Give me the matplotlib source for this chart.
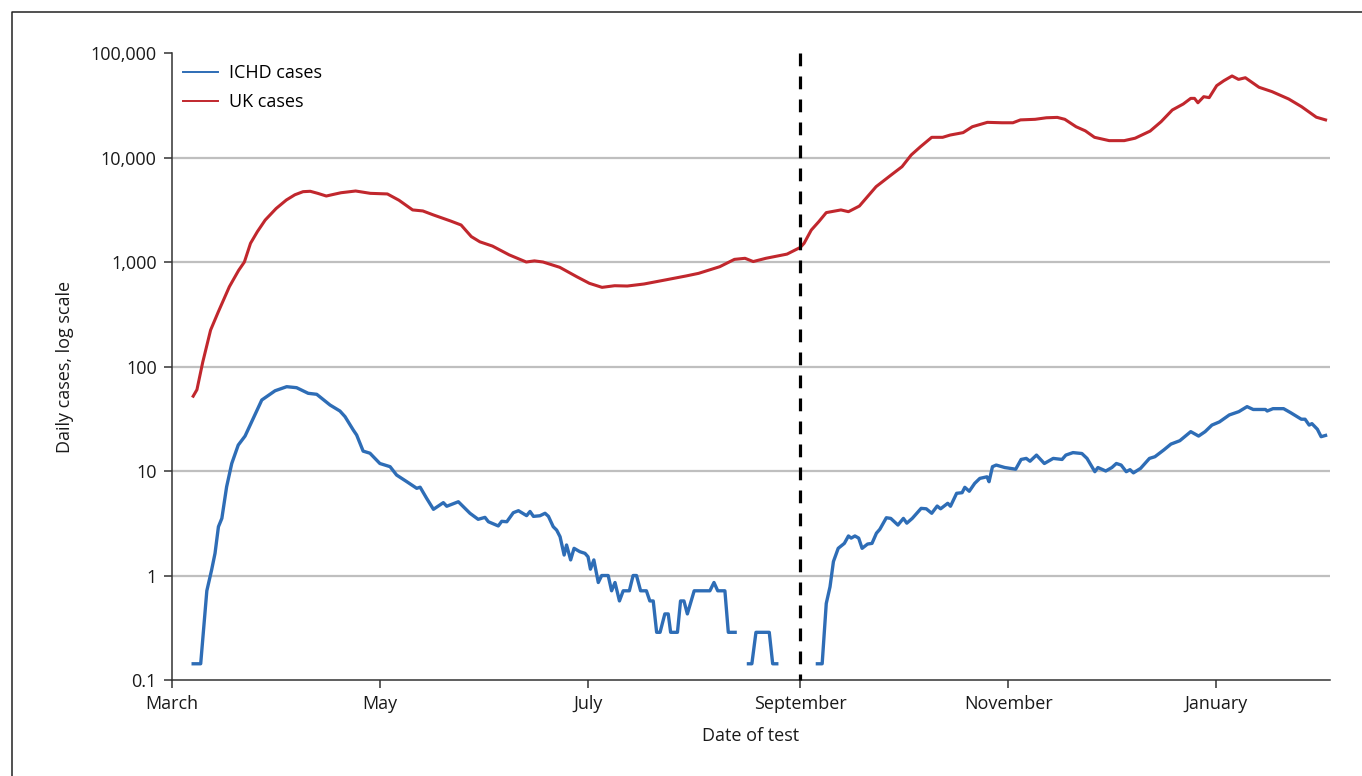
import numpy as np
import pandas as pd
import matplotlib
matplotlib.use("Agg")
import matplotlib.pyplot as plt
from matplotlib.lines import Line2D

plt.rcParams["font.family"] = ["Open Sans", "DejaVu Sans"]

START = pd.Timestamp("2020-03-01")

# 7-day average of UK daily cases (days since 1 March 2020)
uk_days = [6.2, 7.3, 9.0, 11.3, 13.5, 16.8, 19.5, 21.2, 23.0, 25.0, 27.3, 30.5, 33.5,
           36.0, 38.4, 40.5, 42.7, 45.2, 47.5, 49.5, 53.8, 58.1, 63.1, 66.5, 70.5,
           73.5, 76.6, 81.6, 84.7, 87.7, 90.2, 93.9, 98.8, 103.8, 106.2, 108.7,
           113.6, 118.6, 122.3, 126.0, 129.7, 133.4, 138.3, 144.5, 150.6, 154.3,
           160.5, 164.8, 167.9, 170.3, 174.0, 180.2, 184.1, 185.2, 187.3, 189.5,
           191.7, 196.0, 198.2, 201.4, 206.3, 210.7, 213.9, 216.6, 219.3, 222.6,
           225.8, 228.0, 231.8, 234.5, 238.9, 243.2, 246.4, 248.6, 252.9, 256.2,
           259.4, 261.6, 264.9, 267.6, 270.3, 274.6, 279.0, 282.2, 286.6, 289.8,
           293.1, 296.3, 298.5, 299.6, 300.6, 302.3, 303.9, 306.1, 308.2, 310.6,
           312.5, 314.5, 318.5, 322.3, 327.2, 331.0, 335.3, 338.0]
uk_cases = [52, 60, 110, 223, 330, 580, 830, 1000, 1510, 1950, 2520, 3250, 3920,
            4400, 4710, 4750, 4540, 4280, 4450, 4600, 4780, 4540, 4480, 3900, 3150,
            3080, 2820, 2470, 2260, 1750, 1560, 1420, 1170, 1000, 1025, 1000,
            890, 723, 625, 572, 593, 589, 616, 673, 735, 779,
            902, 1060, 1085, 1010, 1085, 1190, 1380, 1510, 2020, 2430,
            2970, 3150, 3030, 3430, 5260, 6800, 8170, 10580, 12680, 15600,
            15600, 16400, 17300, 19700, 21700, 21500, 21500, 22900, 23200, 24000,
            24200, 23200, 19700, 18000, 15600, 14500, 14500, 15300, 17900, 22000,
            28500, 32500, 36800, 36800, 33400, 38200, 37400, 48700, 54300, 60300,
            55900, 58000, 47000, 42700, 36300, 30600, 24300, 22900]

# 7-day average of ICHD cases; NaN marks days with no cases
ichd_days = [6.2, 8.4, 10.2, 11.6, 12.6, 13.6, 14.6, 16.0, 17.5, 19.4, 21.4, 22.9,
             26.3, 27.7, 30.2, 33.6, 36.5, 39.9, 42.4, 46.3, 49.2, 50.7, 53.1,
             54.1, 56.0, 58.0, 60.9, 63.9, 65.8, 68.8, 71.7, 72.7, 74.6, 76.6,
             79.5, 80.5, 83.9, 87.3, 89.7, 91.7, 92.7, 95.6, 96.6, 98.1, 100.0,
             101.5, 103.9, 104.9, 105.9, 107.8, 109.3, 110.3, 111.7, 112.7, 113.7,
             114.9, 115.6, 116.8, 117.8, 119.5, 121.0, 121.9, 122.6, 123.6, 124.9,
             125.9, 127.8, 128.8, 129.8, 131.1, 132.2, 134.0, 135.1, 136.1, 137.3,
             139.0, 140.0, 141.0, 142.0, 143.0, 144.4, 145.4, 146.1, 148.1, 149.0,
             150.0, 151.0, 153.0, 157.6, 158.8, 159.9, 162.0, 163.0, 165.0, 167.0,
             168.9, 169.9, 171.1, 175.0, 176.0, 177.2, 183.0,
             189.1, 190.5, 191.7, 192.8, 193.8, 195.2, 197.0, 198.2, 199.0, 200.1,
             201.2, 202.2, 203.8, 205.1, 206.4, 207.4, 209.3, 210.6, 212.7, 214.3,
             215.3, 216.9, 219.5, 221.0, 222.6, 224.2, 225.2, 227.3, 228.1, 229.9,
             231.5, 232.3, 233.6, 235.2, 236.7, 238.8, 239.4, 240.4, 241.5, 244.0,
             247.2, 248.8, 250.3, 251.4, 253.3, 255.6, 258.2, 260.8, 261.9, 264.0,
             266.6, 268.1, 270.4, 271.3, 273.6, 275.4, 276.7, 278.1, 279.6, 280.7,
             281.7, 283.8, 286.4, 288.0, 290.6, 292.7, 295.3, 298.5, 300.8, 302.7,
             304.7, 306.9, 309.8, 312.6, 315.0, 316.8, 320.4, 320.9, 322.6, 325.7,
             327.8, 330.9, 332.0, 333.2, 334.0, 335.6, 336.7, 338.0]
ichd_cases = [0.143, 0.143, 0.714, 1.13, 1.63, 2.93, 3.52, 7.07, 11.8, 17.7, 21.6, 27.5,
              47.8, 51.4, 58.6, 64.1, 62.7, 55.4, 54.2, 42.8, 37.5, 33.1, 24.7,
              22.1, 15.5, 14.8, 11.8, 11.0, 9.15, 7.9, 6.83, 7.0, 5.48, 4.3,
              4.98, 4.6, 5.08, 3.94, 3.45, 3.6, 3.27, 2.98, 3.3, 3.27, 3.99,
              4.17, 3.74, 4.1, 3.68, 3.73, 3.94, 3.68, 2.93, 2.72, 2.35,
              1.57, 1.96, 1.41, 1.82, 1.69, 1.63, 1.51, 1.15, 1.41, 0.857,
              1.0, 1.0, 0.714, 0.857, 0.571, 0.714, 0.714, 1.0, 1.0, 0.714,
              0.714, 0.571, 0.571, 0.286, 0.286, 0.429, 0.429, 0.286, 0.286, 0.571,
              0.571, 0.429, 0.714, 0.714, 0.857, 0.714, 0.714, 0.286, 0.286, np.nan,
              0.143, 0.143, 0.286, 0.286, 0.143, 0.143, np.nan,
              0.143, 0.143, 0.54, 0.78, 1.36, 1.82, 2.03, 2.39, 2.28, 2.39,
              2.28, 1.82, 2.0, 2.03, 2.54, 2.77, 3.57, 3.52, 3.04, 3.52,
              3.17, 3.52, 4.39, 4.35, 3.94, 4.62, 4.35, 4.91, 4.6, 6.12,
              6.2, 6.98, 6.4, 7.62, 8.5, 8.8, 7.9, 11.0, 11.4, 10.8,
              10.4, 12.9, 13.2, 12.4, 14.2, 11.8, 13.2, 12.9, 14.2, 15.0,
              14.7, 13.2, 9.85, 10.8, 10.0, 10.8, 11.8, 11.4, 9.85, 10.3,
              9.6, 10.6, 13.2, 13.7, 15.9, 18.1, 19.5, 23.8, 21.6, 23.8,
              27.5, 29.5, 34.4, 37.0, 41.3, 38.8, 38.8, 37.5, 39.5, 39.5,
              36.1, 31.3, 31.3, 27.5, 28.4, 25.1, 21.3, 21.9]

y_ticks = [0.1, 1, 10, 100, 1000, 10000, 100000]
y_tick_labels = ["0.1", "1", "10", "100", "1,000", "10,000", "100,000"]
month_ticks = ["2020-03-01", "2020-05-01", "2020-07-01", "2020-09-01", "2020-11-01", "2021-01-01"]
month_labels = ["March", "May", "July", "September", "November", "January"]
cutoff_date = "2020-09-01"

BLUE = "#2e6db6"
RED = "#c1272d"


def to_dates(days):
    return START + pd.to_timedelta(np.asarray(days, dtype=float), unit="D")


fig = plt.figure(figsize=(13.62, 7.76), dpi=100)
ax = fig.add_axes([0.1263, 0.1237, 0.8502, 0.808])

# frame along the left and top edges of the figure
fx, fy = 11.5 / 1362, 1 - 11.5 / 776
fig.add_artist(Line2D([fx, fx, 1.0], [0.0, fy, fy], transform=fig.transFigure,
                      color="#222222", linewidth=1.1))

ax.set_yscale("log")
ax.set_ylim(0.1, 100000)
ax.set_xlim(START, START + pd.Timedelta(days=339.3))

for v in y_ticks[1:-1]:
    ax.axhline(v, color="#bfbfbf", linewidth=1.6, zorder=0)

ax.plot(to_dates(uk_days), uk_cases, color=RED, linewidth=2.2, zorder=3)
ax.plot(to_dates(ichd_days), ichd_cases, color=BLUE, linewidth=2.4, zorder=3)

# dashed marker for the start of September, drawn top-down
cut = pd.Timestamp(cutoff_date)
ax.plot([cut, cut], [1, 0], transform=ax.get_xaxis_transform(), color="black",
        linewidth=2.3, linestyle=(0, (4.0, 3.2)), zorder=4, clip_on=False)

ax.set_yticks(y_ticks)
ax.set_yticklabels(y_tick_labels)
ax.yaxis.set_minor_locator(matplotlib.ticker.NullLocator())
ax.set_xticks(pd.to_datetime(month_ticks))
ax.set_xticklabels(month_labels)
ax.xaxis.set_minor_locator(matplotlib.ticker.NullLocator())

for side in ["top", "right"]:
    ax.spines[side].set_visible(False)
for side in ["left", "bottom"]:
    ax.spines[side].set_color("#333333")
    ax.spines[side].set_linewidth(1.1)

ax.tick_params(axis="both", direction="out", length=6, width=1.1, color="#333333",
               labelsize=13, labelcolor="#1a1a1a", pad=5)

ax.set_xlabel("Date of test", fontsize=13, color="#1a1a1a", labelpad=10)
ax.set_ylabel("Daily cases, log scale", fontsize=13, color="#1a1a1a", labelpad=12)

handles = [Line2D([], [], color=BLUE, linewidth=1.4),
           Line2D([], [], color=RED, linewidth=1.4)]
ax.legend(handles, ["ICHD cases", "UK cases"], loc="upper left", frameon=False,
          fontsize=13, handlelength=1.95, handletextpad=0.6, labelspacing=0.62,
          borderaxespad=0.2, bbox_to_anchor=(0.0, 1.0))

fig.savefig("out.png", dpi=100)
